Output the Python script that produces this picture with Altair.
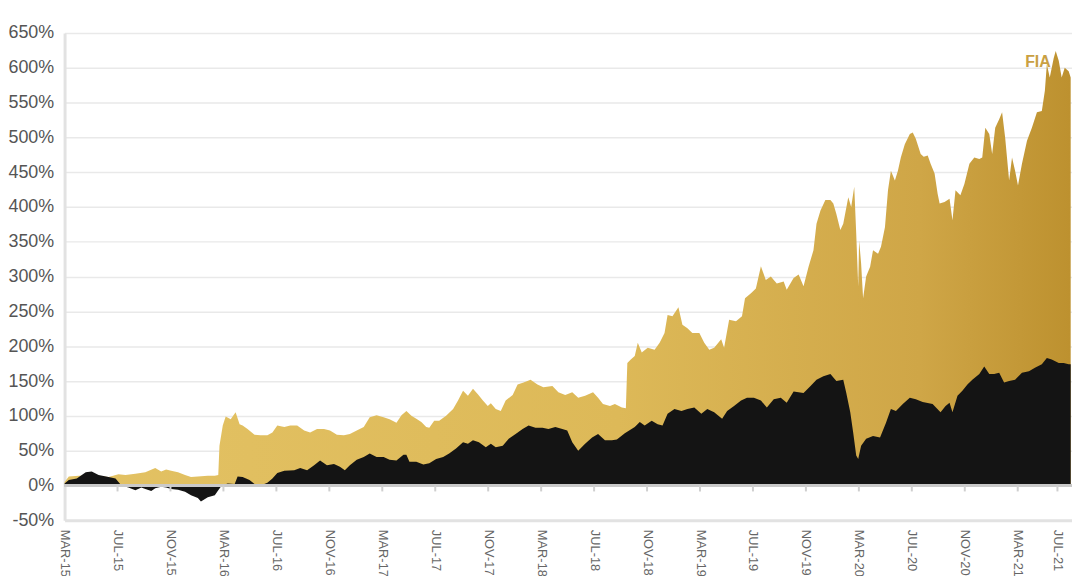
import altair as alt
import pandas as pd

# Months elapsed since March 2015 (x) and cumulative return in % (y)
fia_month = [0, 0.32, 1.07, 1.82, 2.57, 3.32, 4.07, 4.6, 5.35, 6.1,
             6.85, 7.3, 7.67, 8.05, 8.57, 9.1, 9.55, 10.07, 10.82, 11.35,
             11.61, 11.7, 11.95, 12.17, 12.55, 12.92, 13.22, 13.45, 13.82, 14.35,
             14.8, 15.32, 15.7, 16.07, 16.6, 17.05, 17.57, 18.1, 18.55, 19.07,
             19.6, 20.05, 20.57, 21.1, 21.55, 22.07, 22.6, 23.05, 23.57, 24.1,
             24.55, 25.07, 25.45, 25.82, 26.2, 26.57, 26.95, 27.32, 27.55, 27.92,
             28.3, 28.82, 29.35, 29.72, 30.1, 30.47, 30.85, 31.22, 31.6, 31.97,
             32.2, 32.57, 32.95, 33.32, 33.85, 34.22, 34.67, 35.2, 35.72, 36.17,
             36.85, 37.3, 37.82, 38.35, 38.8, 39.32, 39.92, 40.3, 40.67, 41.2,
             41.57, 42.1, 42.4, 42.51, 42.77, 43.07, 43.3, 43.6, 44.05, 44.57,
             44.95, 45.32, 45.55, 45.92, 46.37, 46.67, 47.05, 47.42, 47.95, 48.32,
             48.7, 49.07, 49.6, 49.82, 50.2, 50.72, 51.17, 51.4, 51.85, 52.22,
             52.6, 52.97, 53.35, 53.8, 54.32, 54.55, 55.07, 55.45, 55.82, 56.2,
             56.57, 56.8, 57.1, 57.47, 57.85, 58.07, 58.3, 58.6, 58.82, 59.2,
             59.42, 59.65, 59.8, 59.95, 60.02, 60.17, 60.32, 60.55, 60.85, 61.07,
             61.45, 61.67, 61.97, 62.2, 62.42, 62.72, 62.95, 63.17, 63.47, 63.85,
             64.07, 64.3, 64.67, 64.9, 65.2, 65.42, 65.72, 65.95, 66.1, 66.47,
             66.85, 67.07, 67.3, 67.67, 67.97, 68.35, 68.72, 69.1, 69.32, 69.55,
             69.85, 70.07, 70.3, 70.6, 70.82, 71.05, 71.35, 71.57, 71.8, 72.02,
             72.32, 72.7, 73.07, 73.45, 73.82, 74.05, 74.2, 74.42, 74.72, 74.87,
             75.1, 75.32, 75.55, 75.85, 76.0]
fia_pct = [5, 13, 14, 14, 14, 12, 16, 15, 17, 19,
           25, 20, 23, 21, 19, 15, 12, 13, 14, 14,
           15, 57, 86, 99, 95, 105, 88, 86, 81, 73,
           72, 72, 76, 86, 84, 86, 86, 79, 76, 81,
           81, 79, 73, 72, 74, 79, 84, 98, 101, 98,
           95, 90, 101, 107, 100, 96, 91, 84, 83, 93,
           93, 100, 110, 122, 136, 129, 139, 131, 122, 114,
           118, 110, 107, 122, 130, 145, 148, 152, 145, 141,
           143, 134, 130, 134, 126, 129, 134, 126, 117, 114,
           117, 112, 111, 176, 181, 186, 205, 191, 198, 195,
           205, 219, 245, 243, 256, 231, 226, 219, 219, 205,
           195, 198, 210, 198, 238, 236, 243, 269, 276, 283,
           315, 295, 300, 290, 293, 281, 298, 303, 286, 314,
           338, 376, 395, 410, 410, 405, 390, 367, 376, 414,
           400, 429, 362, 286, 352, 319, 269, 300, 314, 338,
           333, 343, 371, 424, 452, 438, 452, 471, 490, 505,
           507, 498, 476, 472, 474, 462, 448, 419, 405, 407,
           412, 381, 424, 417, 433, 462, 471, 469, 471, 514,
           505, 476, 514, 526, 536, 500, 438, 471, 452, 431,
           462, 495, 514, 536, 538, 567, 605, 586, 614, 624,
           610, 586, 600, 595, 586]

bench_month = [0, 0.32, 0.92, 1.6, 2.05, 2.57, 3.32, 3.85, 4.07, 4.3,
               4.82, 5.35, 5.8, 6.1, 6.55, 6.85, 7.3, 7.67, 8.05, 8.57,
               9.1, 9.55, 10.07, 10.3, 10.82, 11.35, 11.57, 11.87, 12.32, 12.85,
               13.07, 13.45, 13.97, 14.35, 14.8, 15.32, 15.7, 16.07, 16.6, 17.35,
               17.8, 18.32, 18.85, 19.3, 19.82, 20.35, 20.8, 21.17, 21.55, 22.07,
               22.6, 23.05, 23.57, 24.1, 24.55, 25.07, 25.6, 25.82, 26.05, 26.57,
               27.1, 27.55, 28.07, 28.6, 29.05, 29.57, 30.1, 30.47, 30.85, 31.3,
               31.82, 32.2, 32.57, 33.1, 33.55, 34.07, 34.6, 35.05, 35.57, 36.1,
               36.55, 37.07, 37.6, 37.97, 38.35, 38.8, 39.32, 39.85, 40.3, 40.82,
               41.35, 41.72, 42.32, 43.07, 43.45, 43.82, 44.35, 44.8, 45.17, 45.55,
               46.07, 46.6, 47.05, 47.57, 48.1, 48.55, 49.07, 49.67, 50.05, 50.57,
               51.1, 51.55, 52.07, 52.6, 53.05, 53.57, 54.1, 54.55, 55.07, 55.82,
               56.35, 56.8, 57.32, 57.85, 58.3, 58.82, 59.05, 59.35, 59.57, 59.8,
               59.95, 60.17, 60.55, 61.07, 61.6, 62.05, 62.42, 62.8, 63.32, 63.85,
               64.3, 64.82, 65.57, 66.17, 66.55, 66.85, 67.07, 67.45, 67.82, 68.2,
               68.57, 69.1, 69.47, 69.85, 70.22, 70.6, 70.97, 71.35, 71.8, 72.32,
               72.85, 73.3, 73.82, 74.2, 74.57, 75.1, 75.47, 75.85, 76.0]
bench_pct = [3, 8, 10, 19, 20, 15, 12, 10, 5, 0,
             -3, -7, -3, -5, -8, -4, -2, -3, -5, -6,
             -9, -14, -18, -23, -17, -14, -8, 0, 3, 2,
             13, 12, 8, 2, 0, 4, 10, 18, 21, 22,
             25, 22, 29, 36, 29, 31, 27, 22, 29, 37,
             41, 46, 41, 41, 37, 36, 44, 44, 34, 34,
             30, 32, 38, 41, 46, 53, 62, 60, 65, 62,
             55, 60, 55, 57, 67, 74, 81, 86, 83, 83,
             81, 84, 81, 79, 62, 50, 60, 69, 74, 65,
             65, 66, 75, 84, 91, 86, 93, 88, 86, 103,
             110, 107, 110, 112, 103, 110, 105, 96, 107, 114,
             122, 126, 126, 122, 112, 124, 126, 119, 135, 133,
             143, 152, 157, 160, 150, 152, 133, 105, 76, 43,
             38, 57, 67, 71, 69, 90, 110, 107, 117, 126,
             124, 120, 117, 105, 114, 119, 105, 129, 136, 145,
             152, 160, 171, 160, 160, 162, 148, 150, 152, 162,
             164, 169, 174, 183, 181, 176, 176, 174, 174]

tick_months = [0, 4, 8, 12, 16, 20, 24, 28, 32, 36, 40, 44, 48, 52, 56, 60, 64, 68, 72, 75]
tick_labels = ["MAR-15", "JUL-15", "NOV-15", "MAR-16", "JUL-16", "NOV-16", "MAR-17",
               "JUL-17", "NOV-17", "MAR-18", "JUL-18", "NOV-18", "MAR-19", "JUL-19",
               "NOV-19", "MAR-20", "JUL-20", "NOV-20", "MAR-21", "JUL-21"]
y_ticks = list(range(-50, 651, 50))
series_label = "FIA"

assert len(fia_month) == len(fia_pct)
assert len(bench_month) == len(bench_pct)

fia_df = pd.DataFrame({"t": fia_month, "v": fia_pct})
bench_df = pd.DataFrame({"t": bench_month, "v": bench_pct})
tick_df = pd.DataFrame({"t": tick_months[1:]})
label_df = fia_df.loc[[fia_df["v"].idxmax()]].assign(name=series_label)

FONT = "Liberation Sans"
label_lookup = "[" + ",".join("'%s'" % s for s in tick_labels) + "]"
pos_lookup = "[" + ",".join(str(p) for p in tick_months) + "]"

x_enc = alt.X(
    "t:Q",
    scale=alt.Scale(domain=[0, 76.1], nice=False, zero=False),
    axis=alt.Axis(
        values=tick_months, tickCount=len(tick_months) + 5,
        labelExpr=f"{label_lookup}[indexof({pos_lookup}, datum.value)]",
        labelAngle=90, labelAlign="left", labelBaseline="middle",
        labelFontSize=13, labelColor="#666666", labelFont=FONT,
        labelPadding=9, labelFlush=False, labelOverlap=False,
        ticks=False, grid=False, domain=True,
        domainColor="#e2e2e2", domainWidth=3, title=None,
    ),
)
y_enc = alt.Y(
    "v:Q",
    scale=alt.Scale(domain=[-50, 650], nice=False, zero=False),
    axis=alt.Axis(
        values=y_ticks, tickCount=len(y_ticks) + 5,
        labelExpr="datum.value + '%'",
        labelFontSize=18, labelColor="#555555", labelFont=FONT,
        labelPadding=11, labelOverlap=False, labelFlush=False,
        ticks=False, grid=True,
        gridColor="#e9e9e9", gridWidth=1.5,
        domain=True, domainColor="#e2e2e2", domainWidth=3, title=None,
    ),
)

gold = alt.Chart(fia_df).mark_area(
    color=alt.Gradient(
        gradient="linear", x1=0, x2=1, y1=0, y2=0,
        stops=[
            alt.GradientStop(offset=0, color="#E3C264"),
            alt.GradientStop(offset=0.55, color="#DDB958"),
            alt.GradientStop(offset=0.85, color="#CFA647"),
            alt.GradientStop(offset=1, color="#BD912F"),
        ],
    ),
    opacity=1,
).encode(x=x_enc, y=y_enc, y2=alt.datum(0))

black = alt.Chart(bench_df).mark_area(color="#141414", opacity=1).encode(
    x=x_enc, y=y_enc, y2=alt.datum(0)
)

zero_line = alt.Chart(tick_df).mark_rule(color="#c9c9c9", strokeWidth=2).encode(
    y=alt.datum(0)
)

ticks = alt.Chart(tick_df).mark_rule(color="#cfcfcf", strokeWidth=2, y2Offset=6).encode(
    x=x_enc, y=alt.datum(0), y2=alt.datum(0)
)

label = alt.Chart(label_df).mark_text(
    align="right", baseline="alphabetic", dx=-5, dy=16,
    fontSize=16, fontWeight="bold", font=FONT, color="#C9A043",
).encode(x=x_enc, y=y_enc, text="name:N")

chart = alt.layer(gold, black, zero_line, ticks, label).properties(
    width=1015, height=491,
    padding={"left": 57, "top": 23, "right": 0, "bottom": 54},
    autosize=alt.AutoSizeParams(type="none"),
    background="white",
).configure_view(stroke=None)

chart.save("out.html", embed_options={"renderer": "svg", "actions": False})
